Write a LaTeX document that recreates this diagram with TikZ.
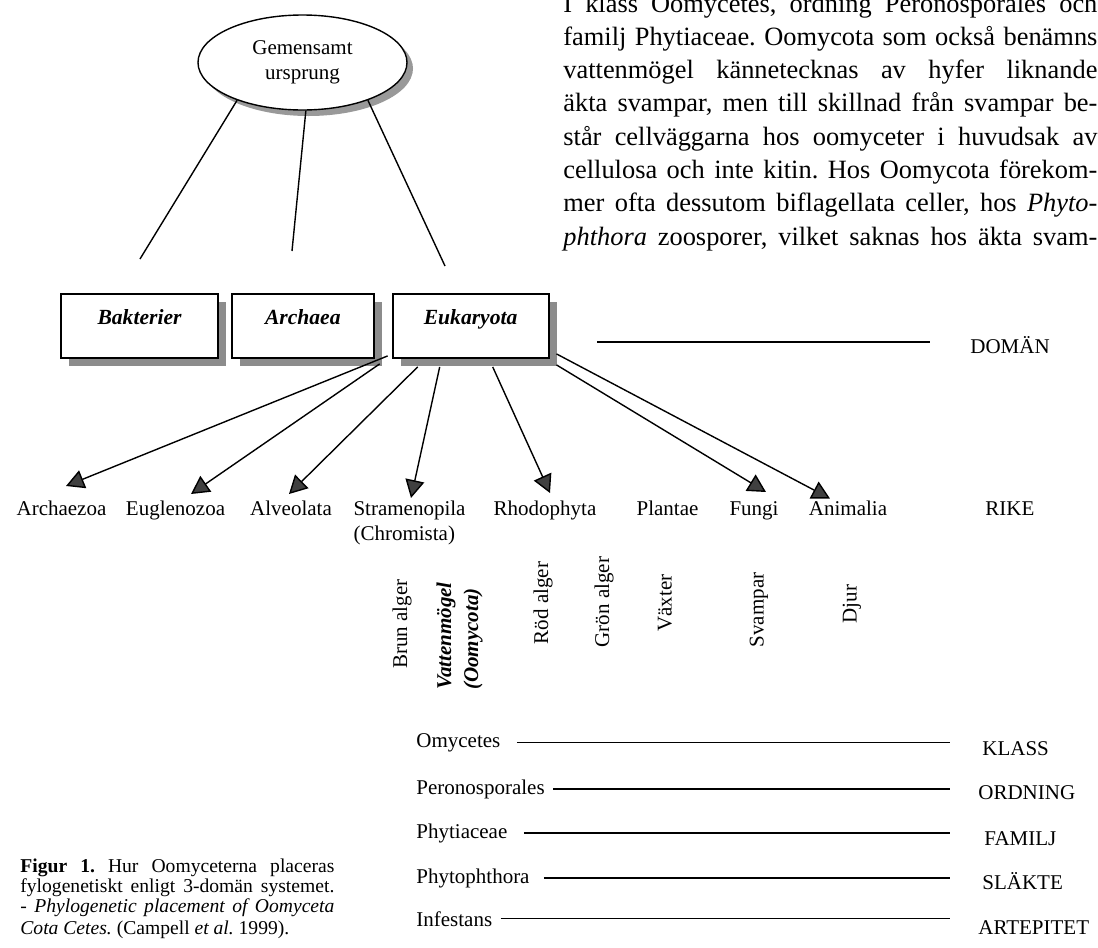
\documentclass[tikz,border=0pt]{standalone}
\usepackage{fontspec}
\setmainfont{Liberation Serif}
\usetikzlibrary{positioning,shapes.geometric,shadows,arrows.meta}

\frenchspacing
\newcommand{\justline}[2]{\makebox[#1][s]{#2}}

\tikzset{
  lbl/.style={font=\fontsize{10.5}{12.6}\selectfont, inner sep=0pt},
  kingdom/.style={lbl, anchor=base},
  rank/.style={lbl, anchor=base west},
  taxon/.style={lbl, anchor=base west},
  vert/.style={lbl, rotate=90, align=left},
  origin/.style={ellipse, draw, line width=0.7pt, fill=white, minimum width=104.5pt, minimum height=47.5pt,
    align=center, font=\fontsize{10.5}{12.5}\selectfont,
    drop shadow={shadow xshift=3pt, shadow yshift=-3pt, fill=black!40, opacity=1}},
  domainbox/.style={draw, line width=0.9pt, fill=white, font=\fontsize{10.8}{12.6}\selectfont\bfseries\itshape,
    inner xsep=0pt, inner ysep=6pt, text height=9pt, text depth=11pt, minimum height=32pt,
    drop shadow={shadow xshift=4pt, shadow yshift=-4pt, fill=black!45, opacity=1}},
  stem/.style={line width=0.7pt},
  karrow/.style={line width=0.7pt, -{Triangle[length=9pt, width=9.5pt, fill=black!75]}},
  rankline/.style={line width=0.7pt, shorten >=16pt},
  bodytext/.style={font=\fontsize{13.2}{16.65}\selectfont, inner sep=0pt, anchor=base west},
  captext/.style={font=\fontsize{9.8}{11}\selectfont, inner sep=0pt, anchor=base west}
}

\begin{document}
\begin{tikzpicture}[x=0.5pt,y=-0.5pt]
    \useasboundingbox (0,0) rectangle (1098,948);

    %% running text, top right
     \node (p1) [bodytext] at (563,12) {\justline{267pt}{I klass Oomycetes, ordning Peronosporales och}};
     \node (p2) [bodytext] at (563,45.3) {\justline{267pt}{familj Phytiaceae. Oomycota som också benämns}};
     \node (p3) [bodytext] at (563,78.6) {\justline{267pt}{vattenmögel kännetecknas av hyfer liknande}};
     \node (p4) [bodytext] at (563,111.9) {\justline{267pt}{äkta svampar, men till skillnad från svampar be-}};
     \node (p5) [bodytext] at (563,145.2) {\justline{267pt}{står cellväggarna hos oomyceter i huvudsak av}};
     \node (p6) [bodytext] at (563,178.5) {\justline{267pt}{cellulosa och inte kitin. Hos Oomycota förekom-}};
     \node (p7) [bodytext] at (563,211.8) {\justline{267pt}{mer ofta dessutom biflagellata celler, hos \textit{Phyto-}}};
     \node (p8) [bodytext] at (563,245.1) {\justline{267pt}{\textit{phthora} zoosporer, vilket saknas hos äkta svam-}};

    %% common origin and the three domains
     \node (orig) [origin] at (302.5,62.5) {Gemensamt\\ursprung};

     \node (bak) [domainbox, minimum width=78.5pt] at (139.5,326) {Bakterier};
     \node (arc) [domainbox, minimum width=71pt, right=6pt of bak] {Archaea};
     \node (euk) [domainbox, minimum width=78pt, right=8.5pt of arc] {Eukaryota};

     \coordinate (lb) at (140,259);
     \coordinate (la) at (292,251);
     \coordinate (le) at (445,266);
     \draw[stem] (orig.210) -- (lb);
     \draw[stem] (orig.274) -- (la);
     \draw[stem] (orig.330) -- (le);

     \coordinate (d1) at (597,342);
     \coordinate (d2) at (930,342);
     \draw[stem] (d1) -- (d2);
     \node (doman) [rank] at (970,353) {DOMÄN};

    %% kingdoms
     \node (arz) [kingdom] at (61.5,515) {Archaezoa};
     \node (eug) [kingdom] at (175.5,515) {Euglenozoa};
     \node (alv) [kingdom] at (291,515) {Alveolata};
     \node (str) [kingdom, anchor=north, align=left] at (409.5,500.6) {Stramenopila\\(Chromista)};
     \node (rho) [kingdom] at (545,515) {Rhodophyta};
     \node (pla) [kingdom] at (667.5,515) {Plantae};
     \node (fun) [kingdom] at (754,515) {Fungi};
     \node (ani) [kingdom] at (848,515) {Animalia};
     \node (rike) [rank] at (985,515) {RIKE};

     \draw[karrow] ([xshift=-2pt,yshift=1.5pt]euk.south west) -- ([xshift=2.25pt,yshift=14.5pt]arz.base);
     \draw[karrow] ([xshift=-6pt,yshift=-2.5pt]euk.south west) -- ([xshift=7.75pt,yshift=10.5pt]eug.base);
     \draw[karrow] ([xshift=13pt,yshift=-4pt]euk.south west) -- ([xshift=-1pt,yshift=10.5pt]alv.base);
     \draw[karrow] ([xshift=24pt,yshift=-4pt]euk.south west) -- ([xshift=0.75pt,yshift=1.3pt]str.north);
     \draw[karrow] ([xshift=50.5pt,yshift=-4pt]euk.south west) -- ([xshift=2.5pt,yshift=11pt]rho.base);
     \draw[karrow] ([xshift=3.5pt,yshift=-3pt]euk.south east) -- ([xshift=6pt,yshift=11.5pt]fun.base);
     \draw[karrow] ([xshift=3.5pt,yshift=2.5pt]euk.south east) -- ([xshift=-9pt,yshift=8.25pt]ani.base);

    %% common names, set on end
     \node (brun) [vert] at (402,624) {Brun alger};
     \node (vat) [vert, font=\fontsize{10.5}{13.5}\selectfont\bfseries\itshape] at (459.5,636) {Vattenmögel\\(Oomycota)};
     \node (rod) [vert] at (543,603) {Röd alger};
     \node (gron) [vert] at (604,602) {Grön alger};
     \node (vax) [vert] at (665,603) {Växter};
     \node (svp) [vert] at (759,610) {Svampar};
     \node (djur) [vert] at (852,604) {Djur};

    %% lower ranks
     \node (omy) [taxon] at (416,747) {Omycetes};
     \node (klass) [rank] at (982,755) {KLASS};
     \node (per) [taxon] at (416,794) {Peronosporales};
     \node (ordn) [rank] at (978,799) {ORDNING};
     \node (phy) [taxon] at (416,838) {Phytiaceae};
     \node (fam) [rank] at (984,845) {FAMILJ};
     \node (pht) [taxon] at (416,883) {Phytophthora};
     \node (slk) [rank] at (982,889) {SLÄKTE};
     \node (inf) [taxon] at (416,926) {Infestans};
     \node (art) [rank] at (978,934) {ARTEPITET};

     \draw[rankline, shorten <=8pt] (omy.east) -- (omy.east -| klass.west);
     \draw[rankline, shorten <=4pt, shorten >=14pt] (per.east) -- (per.east -| ordn.west);
     \draw[rankline, shorten <=8pt, shorten >=17pt] (phy.east) -- (phy.east -| fam.west);
     \draw[rankline, shorten <=7pt] (pht.east) -- (pht.east -| slk.west);
     \draw[rankline, shorten <=4pt, shorten >=14pt] (inf.east) -- (inf.east -| art.west);

    %% caption
     \node (c1) [captext] at (20,872) {\justline{157pt}{\textbf{Figur 1.} Hur Oomyceterna placeras}};
     \node (c2) [captext] at (20,892) {\justline{157pt}{fylogenetiskt enligt 3-domän systemet.}};
     \node (c3) [captext] at (20,912) {\justline{157pt}{- \textit{Phylogenetic placement of Oomyceta}}};
     \node (c4) [captext] at (20,934) {\textit{Cota Cetes.} (Campell \textit{et al.} 1999).};

\end{tikzpicture}
\end{document}
